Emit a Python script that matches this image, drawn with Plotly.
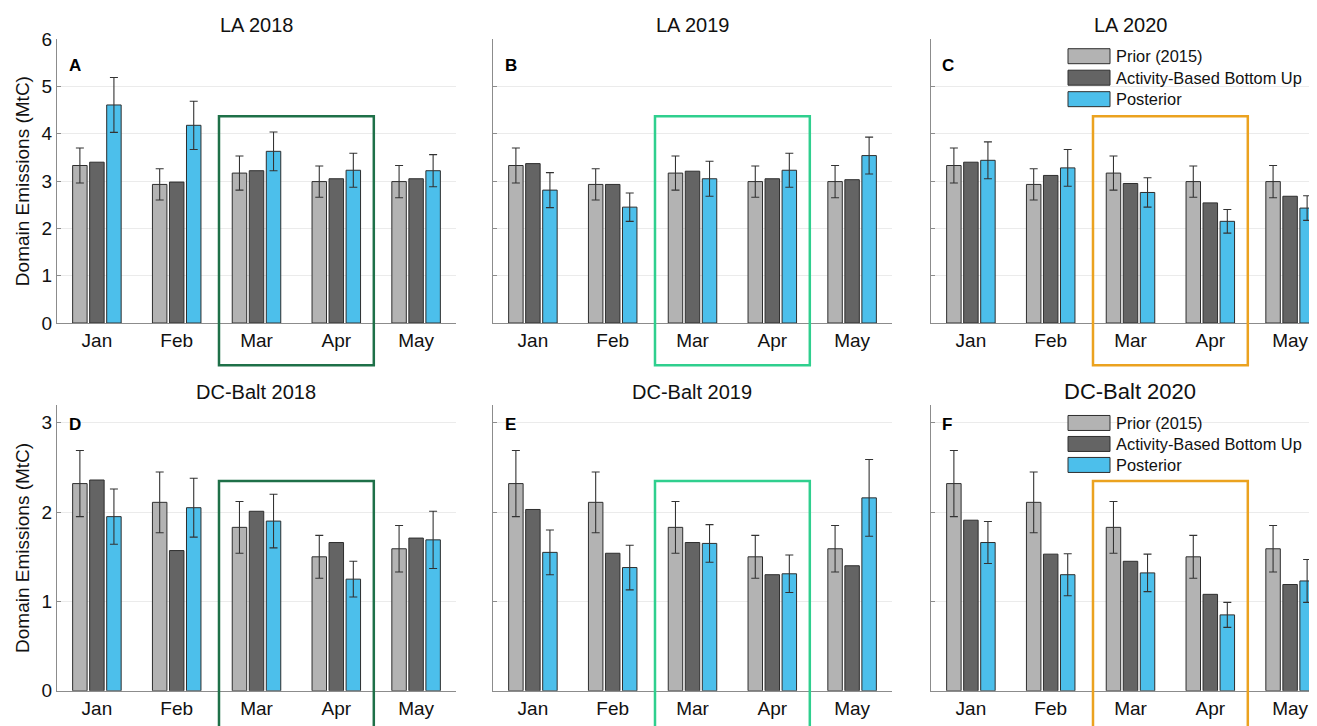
import plotly.graph_objects as go

# ---------------- data ----------------
months = ["Jan", "Feb", "Mar", "Apr", "May"]
years = [2018, 2019, 2020]

la_prior = [3.33, 2.93, 3.17, 2.99, 2.99]
la_prior_err = [0.37, 0.33, 0.36, 0.33, 0.34]
la_activity = {
    2018: [3.40, 2.98, 3.22, 3.05, 3.05],
    2019: [3.37, 2.93, 3.21, 3.05, 3.03],
    2020: [3.40, 3.12, 2.95, 2.54, 2.68],
}
la_posterior = {
    2018: [4.61, 4.18, 3.63, 3.23, 3.22],
    2019: [2.81, 2.45, 3.05, 3.23, 3.54],
    2020: [3.44, 3.28, 2.76, 2.15, 2.43],
}
la_posterior_err = {
    2018: [0.58, 0.51, 0.41, 0.36, 0.34],
    2019: [0.37, 0.30, 0.37, 0.36, 0.39],
    2020: [0.39, 0.39, 0.31, 0.25, 0.26],
}

dc_prior = [2.32, 2.11, 1.83, 1.50, 1.59]
dc_prior_err = [0.37, 0.34, 0.29, 0.24, 0.26]
dc_activity = {
    2018: [2.36, 1.57, 2.01, 1.66, 1.71],
    2019: [2.03, 1.54, 1.66, 1.30, 1.40],
    2020: [1.91, 1.53, 1.45, 1.08, 1.19],
}
dc_posterior = {
    2018: [1.95, 2.05, 1.90, 1.25, 1.69],
    2019: [1.55, 1.38, 1.65, 1.31, 2.16],
    2020: [1.66, 1.30, 1.32, 0.85, 1.23],
}
dc_posterior_err = {
    2018: [0.31, 0.33, 0.30, 0.20, 0.32],
    2019: [0.25, 0.25, 0.21, 0.21, 0.43],
    2020: [0.235, 0.235, 0.21, 0.14, 0.24],
}

series_names = ["Prior (2015)", "Activity-Based Bottom Up", "Posterior"]
panel_letters = ["A", "B", "C", "D", "E", "F"]
panel_titles = ["LA 2018", "LA 2019", "LA 2020", "DC-Balt 2018", "DC-Balt 2019", "DC-Balt 2020"]
y_title = "Domain Emissions (MtC)"

# ---------------- style / layout ----------------
# Positions below are given in target-picture pixels and converted to figure
# fractions, allowing for where the page places the figure.
PAGE_W = 1317
OFF_X = 8
W, H = PAGE_W - 2 * OFF_X, 720
RIGHT = PAGE_W - OFF_X
KY, OFF_Y = 1.0294, 18.3
FONT = "Liberation Sans, Arial, Helvetica, sans-serif"
C_PRIOR, C_ACT, C_POST = "#b3b3b3", "#646464", "#4cbfeb"
EDGE = "#2e2e2e"
ERR = "#333333"
BOX_COLORS = ["#1e7048", "#2fcf8e", "#eba21f"]

def pxx(p):
    return (p - OFF_X) / W

def pxy(p):
    return 1 - (p * KY - OFF_Y) / H

unit_px = 79.8
col_px = [(57, 456), (493, 892), (931, RIGHT)]
x_ranges = [[-0.5, 4.5], [-0.5, 4.5], [-0.5, -0.5 + (RIGHT - 931) / unit_px]]
row_px = [(39, 323), (405, 691)]
y_ranges = [[0, 6], [0, 3.2]]
y_ticks = [[0, 1, 2, 3, 4, 5, 6], [0, 1, 2, 3]]
box_top = [4.37, 2.35]
box_bottom = [-0.89, -0.7]
box_x = (1.53, 3.47)

def xdom(c):
    return [pxx(col_px[c][0]), pxx(col_px[c][1])]

def ydom(r):
    return [pxy(row_px[r][1]), pxy(row_px[r][0])]

def to_paper_x(c, v):
    d0, d1 = xdom(c)
    r0, r1 = x_ranges[c]
    return d0 + (v - r0) / (r1 - r0) * (d1 - d0)

def to_paper_y(r, v):
    d0, d1 = ydom(r)
    r0, r1 = y_ranges[r]
    return d0 + (v - r0) / (r1 - r0) * (d1 - d0)

fig = go.Figure()
shapes = []
annotations = []
layout_axes = {}

for i in range(6):
    r, c = divmod(i, 3)
    n = "" if i == 0 else str(i + 1)
    year = years[c]
    if r == 0:
        prior, prior_err = la_prior, la_prior_err
        act, post, post_err = la_activity[year], la_posterior[year], la_posterior_err[year]
    else:
        prior, prior_err = dc_prior, dc_prior_err
        act, post, post_err = dc_activity[year], dc_posterior[year], dc_posterior_err[year]

    errstyle = dict(type="data", visible=True, color=ERR, thickness=1.1, width=4)
    fig.add_trace(go.Bar(x=months, y=prior, name=series_names[0], offsetgroup="p",
                         marker=dict(color=C_PRIOR, line=dict(color=EDGE, width=1)),
                         error_y=dict(array=prior_err, **errstyle),
                         xaxis="x" + n, yaxis="y" + n, showlegend=False))
    fig.add_trace(go.Bar(x=months, y=act, name=series_names[1], offsetgroup="a",
                         marker=dict(color=C_ACT, line=dict(color=EDGE, width=1)),
                         xaxis="x" + n, yaxis="y" + n, showlegend=False))
    fig.add_trace(go.Bar(x=months, y=post, name=series_names[2], offsetgroup="q",
                         marker=dict(color=C_POST, line=dict(color=EDGE, width=1)),
                         error_y=dict(array=post_err, **errstyle),
                         xaxis="x" + n, yaxis="y" + n, showlegend=False))

    layout_axes["xaxis" + n] = dict(
        domain=xdom(c), range=x_ranges[c], anchor="y" + n, type="category",
        showline=True, linecolor="#8c8c8c", linewidth=1, showgrid=False, ticks="",
        tickfont=dict(size=19, color="#111"), zeroline=False, fixedrange=True)
    layout_axes["yaxis" + n] = dict(
        domain=ydom(r), range=y_ranges[r], anchor="x" + n, tickvals=y_ticks[r],
        showline=True, linecolor="#8c8c8c", linewidth=1, showgrid=True,
        gridcolor="#ebebeb", gridwidth=1, ticks="inside", ticklen=4, tickcolor="#8c8c8c",
        showticklabels=(c == 0), tickfont=dict(size=19, color="#111"), zeroline=False,
        fixedrange=True,
        title=dict(text=y_title if c == 0 else "", font=dict(size=19, color="#111"), standoff=6))

    # highlight box
    shapes.append(dict(type="rect", xref="paper", yref="paper",
                       x0=to_paper_x(c, box_x[0]), x1=to_paper_x(c, box_x[1]),
                       y0=to_paper_y(r, box_bottom[r]), y1=to_paper_y(r, box_top[r]),
                       line=dict(color=BOX_COLORS[c], width=2.5), fillcolor="rgba(0,0,0,0)",
                       layer="above"))

    # panel letter
    annotations.append(dict(text="<b>" + panel_letters[i] + "</b>", xref="x" + n + " domain",
                            yref="y" + n + " domain", x=0.025, y=0.908 if r == 0 else 0.93,
                            xanchor="left", yanchor="middle", showarrow=False,
                            font=dict(size=17, color="#000")))
    # panel title
    tx = [256, 692, 1130][c]
    ty = [25, 392][r]
    annotations.append(dict(text=panel_titles[i], xref="paper", yref="paper",
                            x=pxx(tx), y=pxy(ty), xanchor="center", yanchor="middle",
                            showarrow=False,
                            font=dict(size=22 if i == 5 else 20, color="#111")))

# manual legends in panels C and F
leg_rows = [[56, 77.5, 99], [423, 444, 465]]
swatch_colors = [C_PRIOR, C_ACT, C_POST]
for r in range(2):
    for k in range(3):
        yc = leg_rows[r][k]
        shapes.append(dict(type="rect", xref="paper", yref="paper",
                           x0=pxx(1068), x1=pxx(1110), y0=pxy(yc + 7.5), y1=pxy(yc - 7.5),
                           fillcolor=swatch_colors[k], line=dict(color=EDGE, width=1),
                           layer="above"))
        annotations.append(dict(text=series_names[k], xref="paper", yref="paper",
                                x=pxx(1114), y=pxy(yc), xanchor="left", yanchor="middle",
                                showarrow=False, font=dict(size=16.4, color="#111")))

fig.update_layout(
    width=W, height=H, margin=dict(l=0, r=0, t=0, b=0),
    paper_bgcolor="white", plot_bgcolor="white",
    font=dict(family=FONT, color="#111"),
    barmode="group", bargap=0.36, bargroupgap=0.15,
    shapes=shapes, annotations=annotations, showlegend=False,
    **layout_axes)

fig.write_html("out.html")
